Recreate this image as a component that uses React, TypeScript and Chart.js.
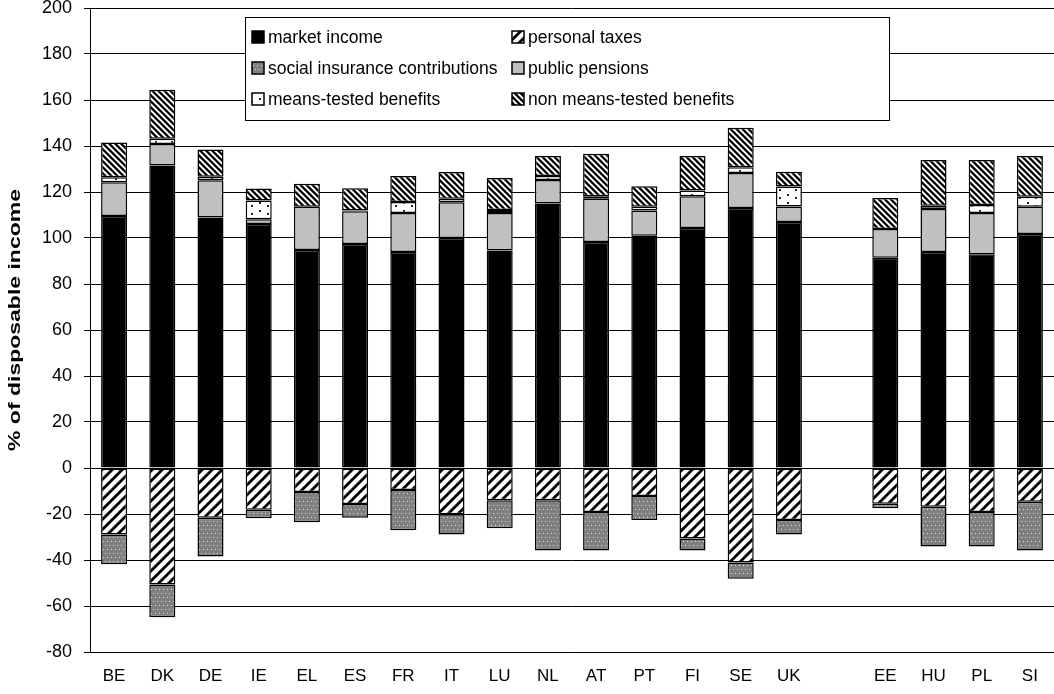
import React, { useEffect, useRef } from 'react';
import { Chart, registerables } from 'chart.js';

Chart.register(...registerables);

const categories = ['BE', 'DK', 'DE', 'IE', 'EL', 'ES', 'FR', 'IT', 'LU', 'NL', 'AT', 'PT', 'FI', 'SE', 'UK', '', 'EE', 'HU', 'PL', 'SI'];

const seriesNames = [
  'market income',
  'personal taxes',
  'social insurance contributions',
  'public pensions',
  'means-tested benefits',
  'non means-tested benefits',
];

const marketIncome = [109.6, 131.5, 108.9, 106.1, 94.8, 97.4, 93.9, 100, 94.6, 115, 98.3, 101, 104.4, 113, 107, null, 91.4, 93.9, 92.9, 101.7];
const personalTaxes = [-28.9, -50.7, -21.6, -18.2, -10.4, -15.7, -9.6, -20.1, -14, -14, -19.1, -12.2, -30.6, -41.1, -22.6, null, -15.5, -16.8, -19.1, -14.7];
const socialContributions = [-13, -14.2, -16.9, -3.7, -13.2, -5.9, -17.5, -8.8, -12.2, -21.9, -16.8, -10.4, -5.3, -7, -6.3, null, -2, -17.3, -15, -21.2];
const publicPensions = [14.6, 9.4, 16.2, 2.1, 18.8, 14.2, 17, 15.5, 16.3, 10.2, 18.8, 11, 13.7, 15.3, 6.7, null, 12.5, 18.7, 18, 11.9];
const meansTested = [2.2, 2.3, 1.5, 8.1, null, 0.4, 4.7, 1.6, 1.3, 1.8, 1, 1.6, 2.5, 2.5, 8.7, null, null, 1.4, 3.5, 4.3];
const nonMeansTested = [15.1, 21.3, 11.9, 5.2, 10, 9.6, 11.4, 11.6, 13.9, 8.7, 18.5, 8.9, 15.1, 17.1, 6.4, null, 13.5, 19.9, 19.5, 17.7];

const yMin = -80;
const yMax = 200;
const yStep = 20;
const yAxisTitle = '% of disposable income';

const FONT = "'Liberation Sans', Arial, sans-serif";

function stripeTile(period: number, band: number, forward: boolean): HTMLCanvasElement {
  const c = document.createElement('canvas');
  c.width = period;
  c.height = period;
  const ctx = c.getContext('2d')!;
  const img = ctx.createImageData(period, period);
  const ss = 4;
  for (let y = 0; y < period; y++) {
    for (let x = 0; x < period; x++) {
      let cov = 0;
      for (let j = 0; j < ss; j++) {
        for (let i = 0; i < ss; i++) {
          const sx = x + (i + 0.5) / ss;
          const sy = y + (j + 0.5) / ss;
          let d = forward ? sx + sy : sx - sy;
          d = ((d % period) + period) % period;
          if (d < band) cov++;
        }
      }
      const v = Math.round(255 * (1 - cov / (ss * ss)));
      const k = (y * period + x) * 4;
      img.data[k] = v;
      img.data[k + 1] = v;
      img.data[k + 2] = v;
      img.data[k + 3] = 255;
    }
  }
  ctx.putImageData(img, 0, 0);
  return c;
}

function dotTile(w: number, h: number, bg: string, fg: string, dots: number[][], size: number): HTMLCanvasElement {
  const c = document.createElement('canvas');
  c.width = w;
  c.height = h;
  const ctx = c.getContext('2d')!;
  ctx.fillStyle = bg;
  ctx.fillRect(0, 0, w, h);
  ctx.fillStyle = fg;
  dots.forEach(([x, y]) => ctx.fillRect(x, y, size, size));
  return c;
}

export default function App() {
  const canvasRef = useRef<HTMLCanvasElement | null>(null);

  useEffect(() => {
    document.body.style.margin = '0';
    const canvas = canvasRef.current;
    if (!canvas) return;
    const ctx = canvas.getContext('2d')!;

    const taxPattern = ctx.createPattern(stripeTile(10, 4, true), 'repeat')!;
    const nmtPattern = ctx.createPattern(stripeTile(6, 3.2, false), 'repeat')!;
    const sicPattern = ctx.createPattern(
      dotTile(8, 8, '#808080', '#dcdcdc', [[1, 1], [5, 1], [3, 5], [7, 5]], 1),
      'repeat'
    )!;
    const mtPattern = ctx.createPattern(
      dotTile(16, 8, '#ffffff', '#222222', [[3, 2], [11, 5]], 2),
      'repeat'
    )!;

    const fills: (string | CanvasPattern)[] = ['#000000', taxPattern, sicPattern, '#c0c0c0', mtPattern, nmtPattern];
    const values = [marketIncome, personalTaxes, socialContributions, publicPensions, meansTested, nonMeansTested];

    const legendPlugin = {
      id: 'boxLegend',
      afterDraw(chart: any) {
        const c = chart.ctx as CanvasRenderingContext2D;
        c.save();
        const bx = 245, by = 17, bw = 644, bh = 103;
        c.fillStyle = '#ffffff';
        c.fillRect(bx, by, bw, bh);
        c.strokeStyle = '#000000';
        c.lineWidth = 1;
        c.strokeRect(bx + 0.5, by + 0.5, bw, bh);
        c.font = `17.5px ${FONT}`;
        c.textBaseline = 'middle';
        c.textAlign = 'left';
        chart.data.datasets.forEach((ds: any, i: number) => {
          const col = i % 2;
          const row = Math.floor(i / 2);
          const sx = col === 0 ? 252 : 512;
          const cy = 37 + row * 31;
          c.fillStyle = ds.backgroundColor;
          c.fillRect(sx, cy - 6, 12, 12);
          c.strokeStyle = '#000000';
          c.lineWidth = 1.5;
          c.strokeRect(sx, cy - 6, 12, 12);
          c.fillStyle = '#000000';
          c.fillText(ds.label, sx + 16, cy + 1);
        });
        c.restore();
      },
    };

    const yTitlePlugin = {
      id: 'yTitle',
      afterDraw(chart: any) {
        const c = chart.ctx as CanvasRenderingContext2D;
        const area = chart.chartArea;
        c.save();
        c.font = `bold 17px ${FONT}`;
        const w = c.measureText(yAxisTitle).width;
        const stretch = 262 / w;
        c.translate(15, (area.top + area.bottom) / 2 - 10);
        c.rotate(-Math.PI / 2);
        c.scale(stretch, 1);
        c.fillStyle = '#000000';
        c.textAlign = 'center';
        c.textBaseline = 'middle';
        c.fillText(yAxisTitle, 0, 0);
        c.restore();
      },
    };

    const chart = new Chart(canvas, {
      type: 'bar',
      data: {
        labels: categories,
        datasets: seriesNames.map((name, i) => ({
          label: name,
          data: values[i] as any,
          backgroundColor: fills[i] as any,
          borderColor: '#000000',
          borderWidth: 1.5,
          borderSkipped: false,
          categoryPercentage: 0.54,
          barPercentage: 1,
        })),
      },
      options: {
        responsive: false,
        animation: false,
        layout: { padding: 0 },
        plugins: {
          legend: { display: false },
          tooltip: { enabled: false },
        },
        scales: {
          x: {
            stacked: true,
            grid: { display: false, drawTicks: false },
            border: { display: true, color: '#000000' },
            ticks: {
              color: '#000000',
              font: { family: FONT, size: 17 },
              padding: 14,
              autoSkip: false,
              maxRotation: 0,
            },
            afterFit(scale: any) {
              scale.height = 42;
              scale.paddingLeft = 0;
              scale.paddingRight = 0;
            },
          },
          y: {
            stacked: true,
            min: yMin,
            max: yMax,
            grid: { color: '#000000', lineWidth: 1, tickLength: 6, drawTicks: true },
            border: { display: true, color: '#000000' },
            ticks: {
              stepSize: yStep,
              color: '#000000',
              font: { family: FONT, size: 18, lineHeight: 1 },
              padding: 12,
            },
            afterFit(scale: any) {
              scale.width = 90;
              scale.paddingTop = 8;
              scale.paddingBottom = 0;
            },
          },
        },
      },
      plugins: [legendPlugin, yTitlePlugin],
    });

    return () => chart.destroy();
  }, []);

  return (
    <div style={{ width: 1054, height: 694 }}>
      <canvas ref={canvasRef} width={1054} height={694} />
    </div>
  );
}
